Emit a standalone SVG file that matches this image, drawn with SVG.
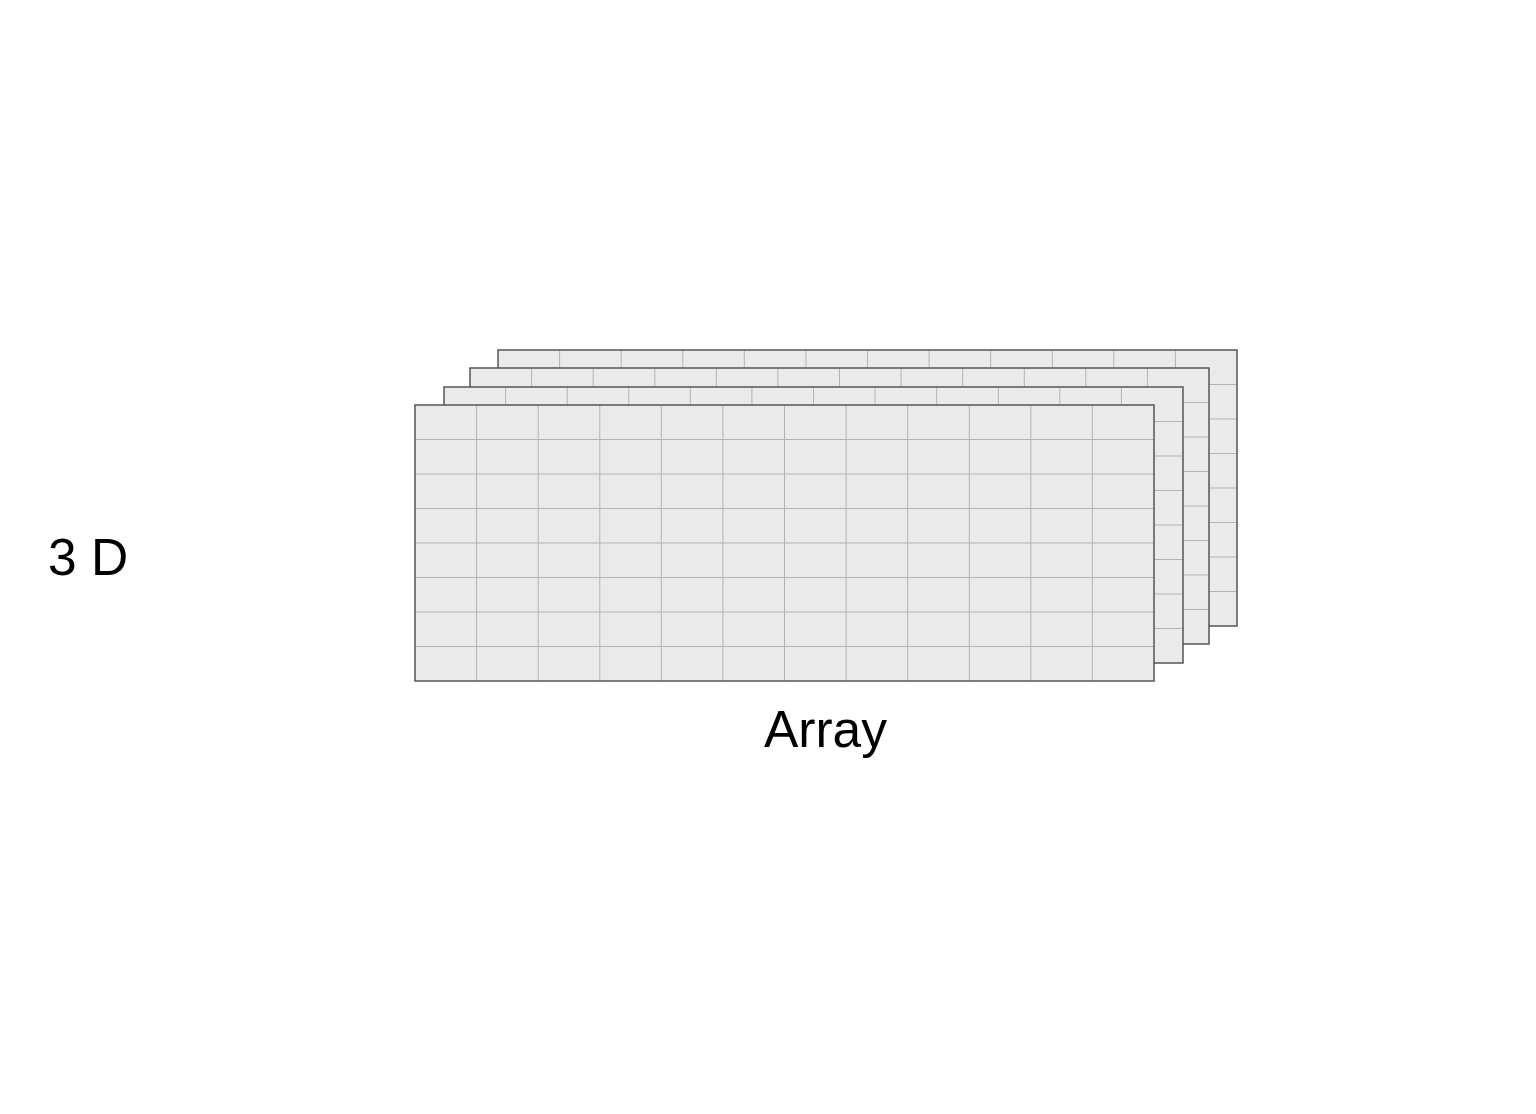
<svg xmlns="http://www.w3.org/2000/svg" xmlns:xlink="http://www.w3.org/1999/xlink" width="1536" height="1114" viewBox="0 0 1536 1114">
<style>
.fill{fill:#eaeaea;stroke:none}
.grid{fill:none;stroke:#b3b3b3;stroke-width:1}
.border{fill:none;stroke:#555555;stroke-width:1.5}
.lbl{font-family:"Liberation Sans",Arial,sans-serif;fill:#000}
</style>
<defs>
<g id="sheet">
<rect class="fill" x="0" y="0" width="739" height="276"/>
<path class="grid" d="M61.6,0V276M123.2,0V276M184.8,0V276M246.3,0V276M307.9,0V276M369.5,0V276M431.1,0V276M492.7,0V276M554.3,0V276M615.8,0V276M677.4,0V276M0,34.5H739M0,69H739M0,103.5H739M0,138H739M0,172.5H739M0,207H739M0,241.5H739"/>
<rect class="border" x="0" y="0" width="739" height="276"/>
</g>
</defs>
<rect width="1536" height="1114" fill="#fff"/>
<g id="sheet4"><use xlink:href="#sheet" href="#sheet" x="498" y="350"/></g>
<g id="sheet3"><use xlink:href="#sheet" href="#sheet" x="470" y="368"/></g>
<g id="sheet2"><use xlink:href="#sheet" href="#sheet" x="444" y="387"/></g>
<g id="sheet1"><use xlink:href="#sheet" href="#sheet" x="415" y="405"/></g>
<g id="connectors"/>
<g id="label-3d"><text class="lbl" x="48" y="575" font-size="51.5">3 D</text></g>
<g id="label-array"><text class="lbl" x="825.5" y="747" font-size="51.5" text-anchor="middle">Array</text></g>
</svg>
